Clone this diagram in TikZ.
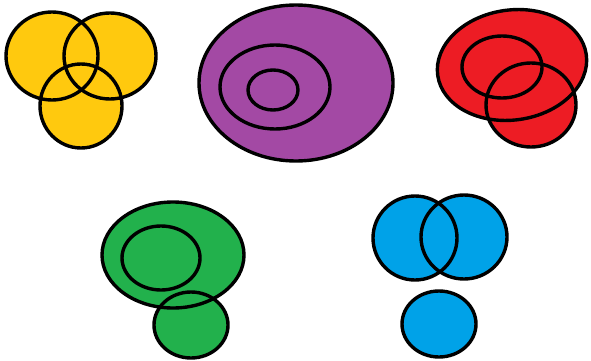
\documentclass[tikz,border=0pt]{standalone}
\definecolor{pyellow}{HTML}{FFC90E}
\definecolor{ppurple}{HTML}{A349A4}
\definecolor{pred}{HTML}{ED1C24}
\definecolor{pgreen}{HTML}{22B14C}
\definecolor{pblue}{HTML}{00A2E8}
\tikzset{outline/.style={draw=black,line width=3.4pt}}
\begin{document}
\begin{tikzpicture}[x=1pt,y=-1pt]
\useasboundingbox (0,0) rectangle (591,361);
% yellow
\fill[pyellow] (52,56) ellipse [x radius=46,y radius=44];
\fill[pyellow] (110,56) ellipse [x radius=46,y radius=43];
\fill[pyellow] (81,106) ellipse [x radius=41,y radius=42];
\draw[outline] (52,56) ellipse [x radius=46,y radius=44];
\draw[outline] (110,56) ellipse [x radius=46,y radius=43];
\draw[outline] (81,106) ellipse [x radius=41,y radius=42];
% purple
\fill[ppurple] (296,83) ellipse [x radius=97,y radius=78];
\draw[outline] (296,83) ellipse [x radius=97,y radius=78];
\draw[outline] (275,87) ellipse [x radius=55,y radius=42];
\draw[outline] (273,90) ellipse [x radius=25,y radius=20];
% red
\fill[pred] (512,65) ellipse [x radius=75,y radius=55,rotate=8];
\fill[pred] (531,105) ellipse [x radius=45,y radius=42];
\draw[outline] (512,65) ellipse [x radius=75,y radius=55,rotate=8];
\draw[outline] (502,67) ellipse [x radius=40,y radius=31];
\draw[outline] (531,105) ellipse [x radius=45,y radius=42];
% green
\fill[pgreen] (173,255) ellipse [x radius=71,y radius=53];
\fill[pgreen] (191,325) ellipse [x radius=37,y radius=33];
\draw[outline] (173,255) ellipse [x radius=71,y radius=53];
\draw[outline] (161,258) ellipse [x radius=39,y radius=32];
\draw[outline] (191,325) ellipse [x radius=37,y radius=33];
% blue
\fill[pblue] (415,238) ellipse [x radius=42,y radius=42];
\fill[pblue] (464,237) ellipse [x radius=43,y radius=42];
\draw[outline] (415,238) ellipse [x radius=42,y radius=42];
\draw[outline] (464,237) ellipse [x radius=43,y radius=42];
\draw[outline,fill=pblue] (439,324) ellipse [x radius=37,y radius=33];
\end{tikzpicture}
\end{document}
